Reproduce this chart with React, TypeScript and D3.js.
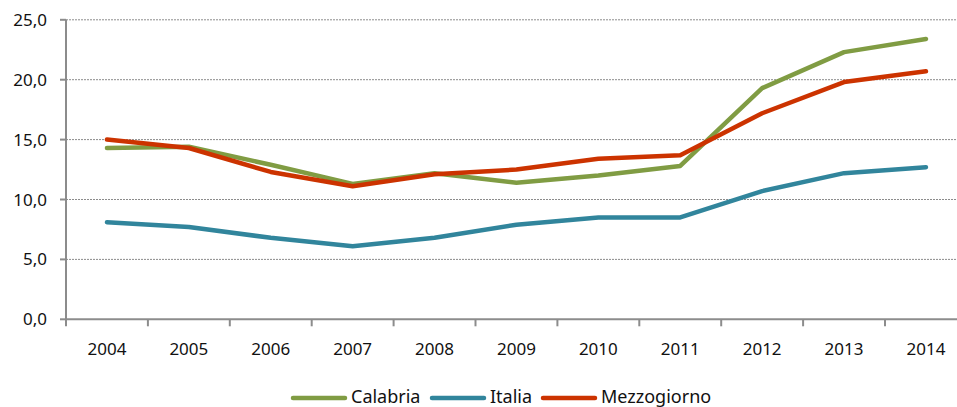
import * as d3 from 'd3';

const years = ['2004', '2005', '2006', '2007', '2008', '2009', '2010', '2011', '2012', '2013', '2014'];
const calabria = [14.3, 14.4, 12.9, 11.3, 12.2, 11.4, 12.0, 12.8, 19.3, 22.3, 23.4];
const italia = [8.1, 7.7, 6.8, 6.1, 6.8, 7.9, 8.5, 8.5, 10.7, 12.2, 12.7];
const mezzogiorno = [15.0, 14.3, 12.3, 11.1, 12.1, 12.5, 13.4, 13.7, 17.2, 19.8, 20.7];
const yTicks = [0, 5, 10, 15, 20, 25];

const series = [
  { name: 'Calabria', values: calabria, color: '#809c43' },
  { name: 'Italia', values: italia, color: '#31859c' },
  { name: 'Mezzogiorno', values: mezzogiorno, color: '#cc3300' },
];

const W = 957;
const H = 407;
const left = 66;
const font = "'Noto Sans', 'Open Sans', sans-serif";

export default function App() {
  const x = d3.scaleBand().domain(years).range([left, left + 11 * 81.9]);
  const y = d3.scaleLinear().domain([0, 25]).range([319.3, 19.8]);
  const line = d3
    .line<number>()
    .x((_, i) => (x(years[i]) ?? 0) + x.bandwidth() / 2)
    .y((d) => y(d));
  const fmt = (v: number) => v.toFixed(1).replace('.', ',');
  const legendX = [293, 432, 543];

  return (
    <svg width={W} height={H} style={{ position: 'absolute', left: 0, top: 0, background: '#fff' }}>
      {yTicks.slice(1).map((t) => (
        <line key={t} x1={left} x2={W} y1={y(t)} y2={y(t)} stroke="#8c8c8c" strokeWidth={1} strokeDasharray="2 1" />
      ))}
      <line x1={left} x2={left} y1={y(25)} y2={y(0) + 7} stroke="#8c8c8c" strokeWidth={2} />
      <line x1={left} x2={W} y1={y(0)} y2={y(0)} stroke="#8c8c8c" strokeWidth={2} />
      {yTicks.map((t) => (
        <g key={t}>
          <line x1={left - 6} x2={left} y1={y(t)} y2={y(t)} stroke="#8c8c8c" strokeWidth={2} />
          <text x={47} y={y(t) + 6} textAnchor="end" fontFamily={font} fontSize={17} fill="#111">
            {fmt(t)}
          </text>
        </g>
      ))}
      {years.map((yr, i) => (
        <g key={yr}>
          {i > 0 && (
            <line x1={x(yr)} x2={x(yr)} y1={y(0)} y2={y(0) + 7} stroke="#8c8c8c" strokeWidth={2} />
          )}
          <text
            x={(x(yr) ?? 0) + x.bandwidth() / 2}
            y={355}
            textAnchor="middle"
            fontFamily={font}
            fontSize={17}
            fill="#111"
          >
            {yr}
          </text>
        </g>
      ))}
      {series.map((s) => (
        <path
          key={s.name}
          d={line(s.values) ?? ''}
          fill="none"
          stroke={s.color}
          strokeWidth={4.5}
          strokeLinecap="round"
          strokeLinejoin="round"
        />
      ))}
      {series.map((s, i) => (
        <g key={s.name} transform={`translate(${legendX[i]},398)`}>
          <line x1={0} x2={52} y1={0} y2={0} stroke={s.color} strokeWidth={4.5} strokeLinecap="round" />
          <text x={58} y={5} fontFamily={font} fontSize={18} fill="#111">
            {s.name}
          </text>
        </g>
      ))}
    </svg>
  );
}
